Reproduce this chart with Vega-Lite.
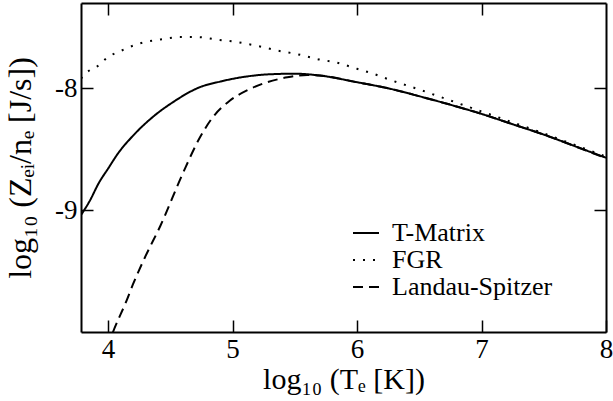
{
  "$schema": "https://vega.github.io/schema/vega-lite/v6.json",
  "autosize": {"type": "none"},
  "padding": {"left": 81, "top": 3, "right": 7, "bottom": 69},
  "width": 525,
  "height": 329,
  "background": "white",
  "config": {
    "view": {"stroke": null},
    "font": "Liberation Serif, Times New Roman, serif",
    "axis": {
      "grid": false,
      "domainColor": "black",
      "domainWidth": 2,
      "tickColor": "black",
      "tickWidth": 1.5,
      "tickSize": -12,
      "labelPadding": 16,
      "labelColor": "black",
      "labelFont": "Liberation Serif, Times New Roman, serif",
      "labelFontSize": 27,
      "labelFlush": false,
      "titleFont": "Liberation Serif, Times New Roman, serif",
      "titleFontSize": 30,
      "titleFontWeight": "normal",
      "titleColor": "black"
    },
    "legend": {
      "orient": "none",
      "legendX": 271,
      "legendY": 216,
      "padding": 0,
      "rowPadding": -2,
      "symbolType": "stroke",
      "symbolSize": 676,
      "symbolStrokeWidth": 2,
      "symbolStrokeColor": "black",
      "labelFont": "Liberation Serif, Times New Roman, serif",
      "labelFontSize": 26,
      "labelLimit": 0,
      "labelColor": "black",
      "labelOffset": 12,
      "title": null
    }
  },
  "data": {
    "values": [
      {"series": "T-Matrix", "x": 3.783, "y": -9.04},
      {"series": "T-Matrix", "x": 3.85, "y": -8.93},
      {"series": "T-Matrix", "x": 3.93, "y": -8.77},
      {"series": "T-Matrix", "x": 4.0, "y": -8.66},
      {"series": "T-Matrix", "x": 4.08, "y": -8.535},
      {"series": "T-Matrix", "x": 4.2, "y": -8.39},
      {"series": "T-Matrix", "x": 4.36, "y": -8.235},
      {"series": "T-Matrix", "x": 4.52, "y": -8.115},
      {"series": "T-Matrix", "x": 4.74, "y": -7.99},
      {"series": "T-Matrix", "x": 4.9, "y": -7.945},
      {"series": "T-Matrix", "x": 5.1, "y": -7.905},
      {"series": "T-Matrix", "x": 5.3, "y": -7.885},
      {"series": "T-Matrix", "x": 5.5, "y": -7.88},
      {"series": "T-Matrix", "x": 5.7, "y": -7.895},
      {"series": "T-Matrix", "x": 6.0, "y": -7.95},
      {"series": "T-Matrix", "x": 6.25, "y": -8.0},
      {"series": "T-Matrix", "x": 6.5, "y": -8.065},
      {"series": "T-Matrix", "x": 6.75, "y": -8.135},
      {"series": "T-Matrix", "x": 7.0, "y": -8.21},
      {"series": "T-Matrix", "x": 7.25, "y": -8.295},
      {"series": "T-Matrix", "x": 7.5, "y": -8.38},
      {"series": "T-Matrix", "x": 7.75, "y": -8.475},
      {"series": "T-Matrix", "x": 8.0, "y": -8.57},
      {"series": "FGR", "x": 3.783, "y": -7.92},
      {"series": "FGR", "x": 3.83, "y": -7.87},
      {"series": "FGR", "x": 3.94, "y": -7.8},
      {"series": "FGR", "x": 3.98, "y": -7.76},
      {"series": "FGR", "x": 4.11, "y": -7.69},
      {"series": "FGR", "x": 4.26, "y": -7.63},
      {"series": "FGR", "x": 4.42, "y": -7.6},
      {"series": "FGR", "x": 4.58, "y": -7.58},
      {"series": "FGR", "x": 4.72, "y": -7.58},
      {"series": "FGR", "x": 4.87, "y": -7.6},
      {"series": "FGR", "x": 5.03, "y": -7.62},
      {"series": "FGR", "x": 5.19, "y": -7.65},
      {"series": "FGR", "x": 5.36, "y": -7.69},
      {"series": "FGR", "x": 5.52, "y": -7.72},
      {"series": "FGR", "x": 5.68, "y": -7.76},
      {"series": "FGR", "x": 5.84, "y": -7.79},
      {"series": "FGR", "x": 6.0, "y": -7.84},
      {"series": "FGR", "x": 6.13, "y": -7.88},
      {"series": "FGR", "x": 6.25, "y": -7.925},
      {"series": "FGR", "x": 6.5, "y": -8.01},
      {"series": "FGR", "x": 6.75, "y": -8.1},
      {"series": "FGR", "x": 7.0, "y": -8.19},
      {"series": "FGR", "x": 7.25, "y": -8.28},
      {"series": "FGR", "x": 7.5, "y": -8.37},
      {"series": "FGR", "x": 7.75, "y": -8.465},
      {"series": "FGR", "x": 8.0, "y": -8.56},
      {"series": "Landau-Spitzer", "x": 3.95, "y": -10.25},
      {"series": "Landau-Spitzer", "x": 4.04, "y": -10.0},
      {"series": "Landau-Spitzer", "x": 4.15, "y": -9.74},
      {"series": "Landau-Spitzer", "x": 4.2, "y": -9.61},
      {"series": "Landau-Spitzer", "x": 4.3, "y": -9.38},
      {"series": "Landau-Spitzer", "x": 4.42, "y": -9.13},
      {"series": "Landau-Spitzer", "x": 4.6, "y": -8.7},
      {"series": "Landau-Spitzer", "x": 4.74, "y": -8.4},
      {"series": "Landau-Spitzer", "x": 4.84, "y": -8.24},
      {"series": "Landau-Spitzer", "x": 4.98, "y": -8.1},
      {"series": "Landau-Spitzer", "x": 5.12, "y": -8.015},
      {"series": "Landau-Spitzer", "x": 5.28, "y": -7.95},
      {"series": "Landau-Spitzer", "x": 5.44, "y": -7.91},
      {"series": "Landau-Spitzer", "x": 5.6, "y": -7.89},
      {"series": "Landau-Spitzer", "x": 5.7, "y": -7.895},
      {"series": "Landau-Spitzer", "x": 6.0, "y": -7.95},
      {"series": "Landau-Spitzer", "x": 6.25, "y": -8.0},
      {"series": "Landau-Spitzer", "x": 6.5, "y": -8.065},
      {"series": "Landau-Spitzer", "x": 6.75, "y": -8.135},
      {"series": "Landau-Spitzer", "x": 7.0, "y": -8.21},
      {"series": "Landau-Spitzer", "x": 7.25, "y": -8.295},
      {"series": "Landau-Spitzer", "x": 7.5, "y": -8.38},
      {"series": "Landau-Spitzer", "x": 7.75, "y": -8.475},
      {"series": "Landau-Spitzer", "x": 8.0, "y": -8.575}
    ]
  },
  "layer": [
    {
      "mark": {"type": "line", "clip": true, "interpolate": "monotone", "strokeWidth": 2, "color": "black"},
      "encoding": {
        "x": {
          "field": "x", "type": "quantitative",
          "scale": {"domain": [3.783, 8], "nice": false, "zero": false},
          "axis": {"orient": "bottom", "values": [4, 5, 6, 7, 8], "labelExpr": "'' + datum.value", "title": "log₁₀ (Tₑ [K])", "titlePadding": 2}
        },
        "y": {
          "field": "y", "type": "quantitative",
          "scale": {"domain": [-10, -7.3], "nice": false, "zero": false},
          "axis": {"orient": "left", "values": [-9, -8], "labelExpr": "'' + datum.value", "title": "log₁₀ (Zₑᵢ/nₑ [J/s])", "titlePadding": 17, "titleFontSize": 32}
        },
        "strokeDash": {
          "field": "series", "type": "nominal",
          "scale": {"domain": ["T-Matrix", "FGR", "Landau-Spitzer"], "range": [[1, 0], [2, 8], [10, 6]]}
        },
        "detail": {"field": "series"}
      }
    },
    {
      "mark": {"type": "point", "opacity": 0},
      "encoding": {
        "x": {
          "field": "x", "type": "quantitative",
          "axis": {"orient": "top", "values": [4, 5, 6, 7], "labels": false, "title": null}
        },
        "y": {
          "field": "y", "type": "quantitative",
          "axis": {"orient": "right", "values": [-9, -8], "labels": false, "title": null}
        }
      }
    }
  ],
  "resolve": {"axis": {"x": "independent", "y": "independent"}}
}
